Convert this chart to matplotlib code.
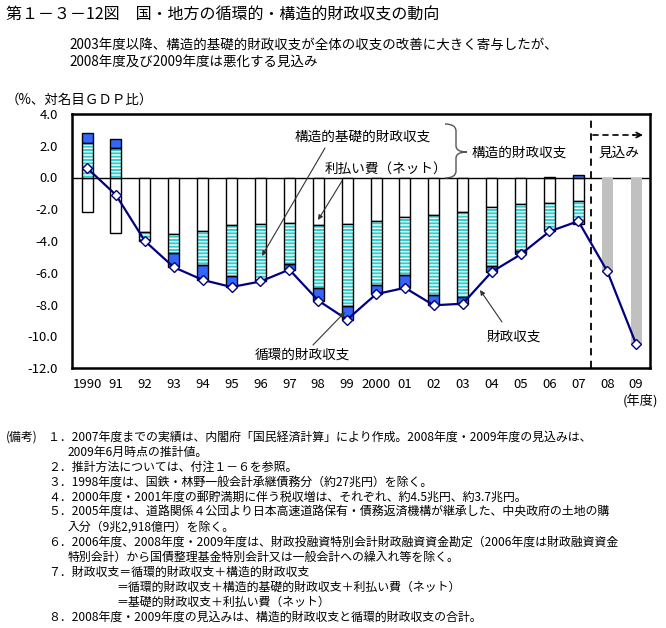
import matplotlib
matplotlib.use('Agg')
import matplotlib.pyplot as plt
import numpy as np
from matplotlib.patches import PathPatch
from matplotlib.path import Path
from matplotlib.transforms import IdentityTransform

plt.rcParams['font.family'] = ['Noto Sans CJK JP', 'DejaVu Sans']
plt.rcParams['hatch.linewidth'] = 1.0

# ---------------- data ----------------
years = ["1990", "91", "92", "93", "94", "95", "96", "97", "98", "99",
         "2000", "01", "02", "03", "04", "05", "06", "07", "08", "09"]
# actual breakdown up to FY2007 (% of nominal GDP)
interest = [-2.2, -3.5, -3.45, -3.55, -3.35, -3.0, -2.95, -2.85, -3.0, -2.9,
            -2.75, -2.5, -2.35, -2.2, -1.85, -1.65, -1.6, -1.5]
struct_primary = [2.15, 1.85, -0.5, -1.2, -2.15, -3.2, -3.5, -2.6, -3.95, -5.2,
                  -4.0, -3.65, -5.05, -5.35, -3.75, -3.0, -1.8, -1.4]
cyclical = [0.68, 0.55, -0.05, -0.9, -0.95, -0.7, -0.1, -0.35, -0.8, -0.85,
            -0.6, -0.8, -0.65, -0.4, -0.35, -0.15, 0.05, 0.15]
# fiscal balance (line), incl. forecasts
balance = [0.6, -1.1, -4.0, -5.65, -6.45, -6.9, -6.55, -5.8, -7.75, -8.95,
           -7.35, -6.95, -8.05, -7.95, -5.95, -4.85, -3.4, -2.75, -5.9, -10.5]
# forecasts FY2008, FY2009
forecast = [-5.9, -10.5]
yticks = [4, 2, 0, -2, -4, -6, -8, -10, -12]
ytick_labels = ["4.0", "2.0", "0.0", "-2.0", "-4.0", "-6.0", "-8.0", "-10.0", "-12.0"]

W, H = 666, 628
fig = plt.figure(figsize=(W / 100, H / 100), dpi=100)
ax = fig.add_axes([72 / W, 1 - 368 / H, (650 - 72) / W, (368 - 114) / H])

x = np.arange(len(years))
n_hist = len(interest)
xh = x[:n_hist]
bw = 0.38

TEAL = '#33CCCC'
BLUE = '#3366FF'
NAVY = '#000080'

ax.axhline(0, color='black', lw=1.0, zorder=1)

pos = np.zeros(n_hist)
neg = np.zeros(n_hist)
for vals, kind in [(interest, 'white'), (struct_primary, 'teal'), (cyclical, 'blue')]:
    v = np.array(vals, dtype=float)
    bottom = np.where(v >= 0, pos, neg)
    if kind == 'white':
        ax.bar(xh, v, bw, bottom=bottom, color='white', edgecolor='black', linewidth=1.0, zorder=2)
    elif kind == 'teal':
        ax.bar(xh, v, bw, bottom=bottom, color=TEAL, edgecolor='white', linewidth=0,
               hatch='-----', zorder=2)
        ax.bar(xh, v, bw, bottom=bottom, fill=False, edgecolor='black', linewidth=1.0, zorder=3)
    else:
        ax.bar(xh, v, bw, bottom=bottom, color=BLUE, edgecolor='black', linewidth=1.0, zorder=2)
    pos += np.where(v >= 0, v, 0)
    neg += np.where(v < 0, v, 0)

ax.bar(x[n_hist:], forecast, bw, color='#C0C0C0', edgecolor='none', zorder=2)

ax.plot(x, balance, color=NAVY, lw=1.6, marker='D', ms=5, mfc='white', mec=NAVY,
        mew=1.0, zorder=5)

ax.axvline(17.45, color='black', lw=1.3, ls=(0, (4, 3)), zorder=4)

ax.set_xlim(-0.52, 19.48)
ax.set_ylim(-12, 4)
ax.set_xticks(x)
ax.set_xticklabels(years, fontsize=9.5)
ax.set_yticks(yticks)
ax.set_yticklabels(ytick_labels, fontsize=9.5)
ax.tick_params(axis='y', length=0, pad=10)
ax.tick_params(axis='x', length=0, pad=7)
for s in ax.spines.values():
    s.set_linewidth(1.8)
    s.set_color('black')


def P(px, py):
    return (px, H - py)


def ftext(px, py, s, size=9.8, ha='left', **kw):
    fig.text(px / W, 1 - py / H, s, fontsize=size, ha=ha, va='center', **kw)


def arrow(start, tip):
    ax.annotate('', xy=P(*tip), xycoords='figure pixels', xytext=P(*start),
                textcoords='figure pixels',
                arrowprops=dict(arrowstyle='-|>', color='#333333', lw=0.8,
                                mutation_scale=7, shrinkA=0, shrinkB=0), zorder=6)

# annotations inside chart
ftext(295, 137, "構造的基礎的財政収支")
ftext(325, 169, "利払い費（ネット）")
ftext(472, 153, "構造的財政収支")
ftext(598, 153, "見込み")
ftext(255, 355, "循環的財政収支")
ftext(487, 337, "財政収支")
arrow((325, 148), (262, 256))
arrow((342, 181), (318, 220))
arrow((313, 345), (345, 312))
arrow((502, 322), (480, 290))

# forecast dashed arrow
ax.annotate('', xy=P(634, 135), xycoords='figure pixels', xytext=P(593, 135),
            textcoords='figure pixels',
            arrowprops=dict(arrowstyle='-', color='black', lw=1.2, ls=(0, (3, 3)),
                            shrinkA=0, shrinkB=0))
ax.annotate('', xy=P(643, 135), xycoords='figure pixels', xytext=P(633, 135),
            textcoords='figure pixels',
            arrowprops=dict(arrowstyle='->', color='black', lw=1.2,
                            mutation_scale=9, shrinkA=0, shrinkB=0))

# brace
verts = [P(445, 124), P(456, 124), P(456, 131), P(456, 146), P(456, 152), P(467, 152),
         P(456, 152), P(456, 158), P(456, 171), P(456, 178), P(445, 178)]
codes = [Path.MOVETO, Path.CURVE3, Path.CURVE3, Path.LINETO, Path.CURVE3, Path.CURVE3,
         Path.CURVE3, Path.CURVE3, Path.LINETO, Path.CURVE3, Path.CURVE3]
fig.patches.append(PathPatch(Path(verts, codes), transform=IdentityTransform(),
                             fill=False, edgecolor='#555555', lw=1.0))

# titles
ftext(6, 15, "第１－３－12図　国・地方の循環的・構造的財政収支の動向", size=11.5)
ftext(69, 45, "2003年度以降、構造的基礎的財政収支が全体の収支の改善に大きく寄与したが、", size=9.7)
ftext(69, 63, "2008年度及び2009年度は悪化する見込み", size=9.7)
ftext(6, 100, "（%、対名目ＧＤＰ比）", size=9.7)
ftext(640, 401, "(年度)", size=9.5, ha='center')

# notes
NS = 8.6
ftext(6, 437, "(備考)", size=NS)
notes = [
    (48, 437, "１．2007年度までの実績は、内閣府「国民経済計算」により作成。2008年度・2009年度の見込みは、"),
    (68, 452, "2009年6月時点の推計値。"),
    (48, 467, "２．推計方法については、付注１－６を参照。"),
    (48, 482, "３．1998年度は、国鉄・林野一般会計承継債務分（約27兆円）を除く。"),
    (48, 497, "４．2000年度・2001年度の郵貯満期に伴う税収増は、それぞれ、約4.5兆円、約3.7兆円。"),
    (48, 512, "５．2005年度は、道路関係４公団より日本高速道路保有・債務返済機構が継承した、中央政府の土地の購"),
    (68, 527, "入分（9兆2,918億円）を除く。"),
    (48, 542, "６．2006年度、2008年度・2009年度は、財政投融資特別会計財政融資資金勘定（2006年度は財政融資資金"),
    (68, 557, "特別会計）から国債整理基金特別会計又は一般会計への繰入れ等を除く。"),
    (48, 572, "７．財政収支＝循環的財政収支＋構造的財政収支"),
    (116, 587, "＝循環的財政収支＋構造的基礎的財政収支＋利払い費（ネット）"),
    (116, 602, "＝基礎的財政収支＋利払い費（ネット）"),
    (48, 617, "８．2008年度・2009年度の見込みは、構造的財政収支と循環的財政収支の合計。"),
]
for nx, ny, s in notes:
    ftext(nx, ny, s, size=NS)

fig.savefig('out.png', dpi=100)
